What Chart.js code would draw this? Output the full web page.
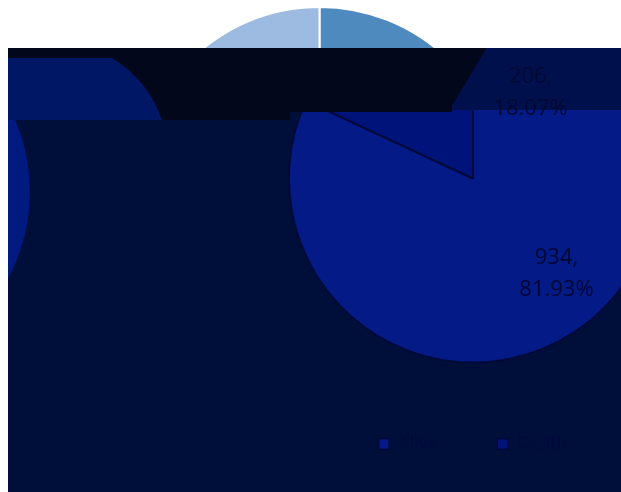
<!DOCTYPE html>
<html>
<head>
<meta charset="utf-8">
<script src="https://cdn.jsdelivr.net/npm/chart.js@4.4.1/dist/chart.umd.min.js"></script>
<style>
html, body { margin: 0; padding: 0; background: #fff; overflow: hidden; width: 621px; height: 492px; }
#base { position: absolute; left: 0; top: 0; }
#ov { position: absolute; left: 8px; top: 48px; width: 613px; height: 444px; overflow: hidden; background: #000e3a; }
#top { position: absolute; left: 0; top: -67px; }
</style>
</head>
<body>
<canvas id="base" width="639" height="382"></canvas>
<div id="ov"><canvas id="top" width="930" height="482"></canvas></div>
<script>
const categories = ['Alive', 'Death'];
const counts = [934, 206];

const total = counts.reduce((a, b) => a + b, 0);

// labels "value,\npercent" placed around each slice
const sliceLabels = {
    id: 'sliceLabels',
    afterDatasetsDraw(chart, args, opts) {
        const ctx = chart.ctx;
        const meta = chart.getDatasetMeta(0);
        ctx.save();
        ctx.font = '22px "Open Sans"';
        ctx.fillStyle = opts.color;
        ctx.textAlign = 'center';
        ctx.textBaseline = 'middle';
        meta.data.forEach((arc, i) => {
            const p = arc.getProps(['x', 'y', 'startAngle', 'endAngle', 'outerRadius'], true);
            const a = (p.startAngle + p.endAngle) / 2 + opts.shift[i];
            const r = p.outerRadius * opts.dist[i];
            const x = p.x + Math.cos(a) * r;
            const y = p.y + Math.sin(a) * r;
            ctx.fillText(counts[i] + ',', x, y - 16);
            ctx.fillText((counts[i] / total * 100).toFixed(2) + '%', x, y + 16);
        });
        ctx.restore();
    }
};

// broken blocks laid over the dark copy of the chart
const glitch = {
    id: 'glitch',
    afterDatasetsDraw(chart) {
        const ctx = chart.ctx;
        const box = chart.canvas.getBoundingClientRect();
        const dx = -box.left, dy = -box.top;   // page -> canvas
        const poly = (pts, color) => {
            ctx.beginPath();
            pts.forEach((q, k) => k ? ctx.lineTo(q[0] + dx, q[1] + dy) : ctx.moveTo(q[0] + dx, q[1] + dy));
            ctx.closePath();
            ctx.fillStyle = color;
            ctx.fill();
        };
        ctx.save();
        poly([[8, 48], [487, 48], [452, 106], [452, 112], [290, 112], [290, 120], [8, 120]], '#02071b');
        poly([[487, 48], [621, 48], [621, 110], [452, 110], [452, 106]], '#00104c');
        ctx.beginPath();
        ctx.moveTo(8 + dx, 58 + dy);
        ctx.lineTo(112 + dx, 58 + dy);
        ctx.quadraticCurveTo(148 + dx, 80 + dy, 162 + dx, 120 + dy);
        ctx.lineTo(8 + dx, 120 + dy);
        ctx.closePath();
        ctx.fillStyle = '#001766';
        ctx.fill();
        ctx.beginPath();
        ctx.rect(0, 120 + dy, 40, 160);
        ctx.clip();
        ctx.beginPath();
        ctx.arc(-150 + dx, 192 + dy, 180, 0, Math.PI * 2);
        ctx.fillStyle = '#001a80';
        ctx.fill();
        ctx.restore();
    }
};

const baseChart = new Chart(document.getElementById('base'), {
    type: 'pie',
    data: {
        labels: categories,
        datasets: [{
            data: counts,
            backgroundColor: ['#4f8abf', '#9dbbe0'],
            borderColor: '#ffffff',
            borderWidth: 2,
            radius: 184
        }]
    },
    options: {
        responsive: false,
        animation: false,
        plugins: {
            legend: { display: false },
            tooltip: { enabled: false },
            sliceLabels: { color: '#1a1a1a', shift: [-0.15, 1.16], dist: [0.69, 0.56] }
        }
    },
    plugins: [sliceLabels]
});

const darkChart = new Chart(document.getElementById('top'), {
    type: 'pie',
    data: {
        labels: categories,
        datasets: [{
            data: counts,
            backgroundColor: ['#041a86', '#00137a'],
            borderColor: '#000a3a',
            borderWidth: 2,
            radius: 184
        }]
    },
    options: {
        responsive: false,
        animation: false,
        plugins: {
            legend: {
                position: 'bottom',
                labels: {
                    color: '#000a3c',
                    boxWidth: 11,
                    boxHeight: 11,
                    padding: 59,
                    font: { family: 'Open Sans', size: 18 }
                }
            },
            tooltip: { enabled: false },
            sliceLabels: { color: '#000833', shift: [-0.15, 1.16], dist: [0.69, 0.56] }
        }
    },
    plugins: [glitch, sliceLabels]
});
</script>
</body>
</html>
